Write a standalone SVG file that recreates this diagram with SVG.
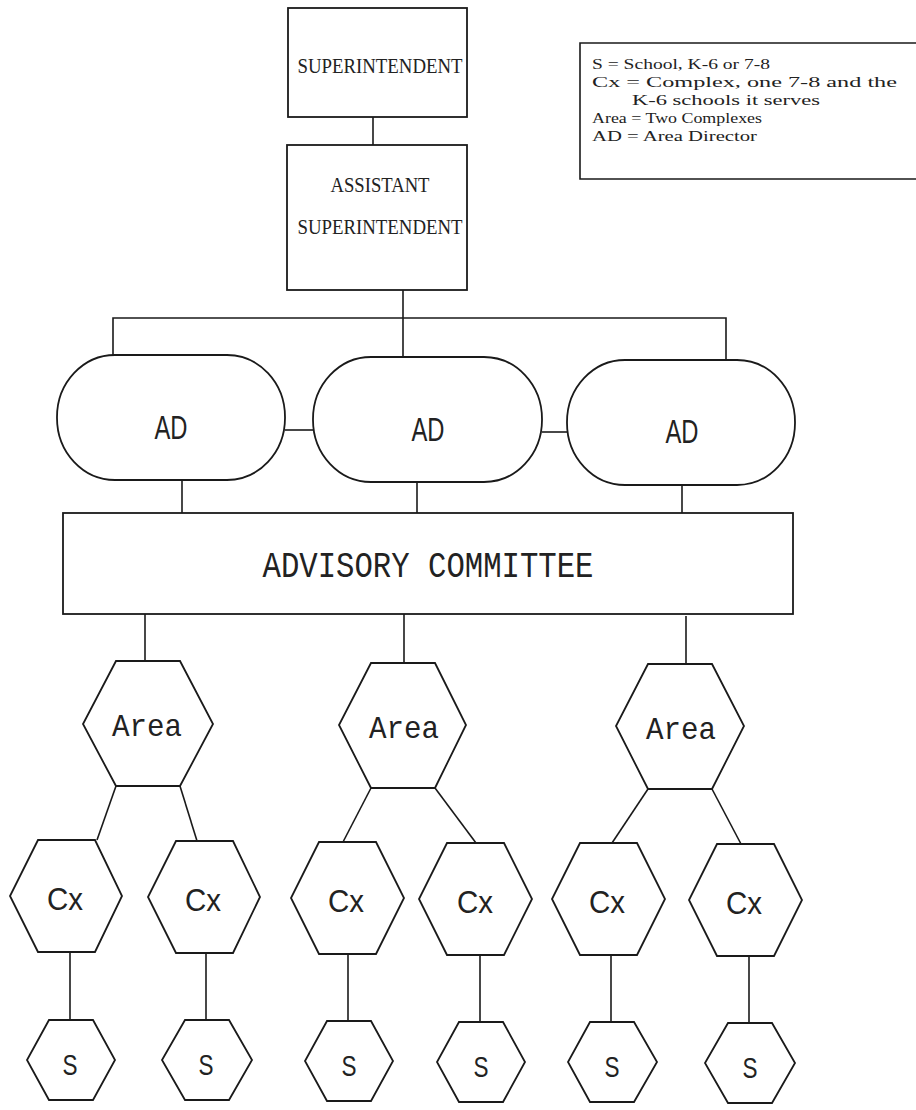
<svg xmlns="http://www.w3.org/2000/svg" width="916" height="1110" viewBox="0 0 916 1110">
<style>
.box{fill:#fff;stroke:#1a1a1a;stroke-width:1.8}
.ln{stroke:#1a1a1a;stroke-width:1.6;fill:none}
.serif{font-family:"Liberation Serif","DejaVu Serif",serif;fill:#222}
.mono{font-family:"Liberation Mono","DejaVu Sans Mono",monospace;fill:#222}
.narrow{font-family:"Liberation Sans Narrow","Liberation Sans",sans-serif;fill:#222}
.ad{font-size:33px}
.cx{font-size:32px}
.s{font-size:30px}
.area{font-size:32px}
.lg{font-size:15px}
.top{font-size:21px}
</style>
<rect width="916" height="1110" fill="#fff"/>
<g id="connectors">
<line class="ln" x1="373" y1="117" x2="373" y2="145"/>
<line class="ln" x1="403" y1="290" x2="403" y2="356"/>
<polyline class="ln" points="113,355 113,318 726,318 726,360"/>
<line class="ln" x1="285" y1="430" x2="313" y2="430"/>
<line class="ln" x1="542" y1="432" x2="567" y2="432"/>
<line class="ln" x1="182" y1="480" x2="182" y2="513"/>
<line class="ln" x1="417" y1="482" x2="417" y2="513"/>
<line class="ln" x1="682" y1="485" x2="682" y2="514"/>
<line class="ln" x1="145" y1="614" x2="145" y2="661"/>
<line class="ln" x1="404" y1="614" x2="404" y2="663"/>
<line class="ln" x1="686" y1="616" x2="686" y2="664"/>
<line class="ln" x1="116" y1="786" x2="97" y2="840"/>
<line class="ln" x1="180" y1="786" x2="197" y2="841"/>
<line class="ln" x1="371" y1="788" x2="343" y2="842"/>
<line class="ln" x1="435" y1="788" x2="476" y2="843"/>
<line class="ln" x1="648" y1="789" x2="612" y2="843"/>
<line class="ln" x1="712" y1="789" x2="741" y2="844"/>
<line class="ln" x1="70" y1="952" x2="70" y2="1020"/>
<line class="ln" x1="206" y1="953" x2="206" y2="1020"/>
<line class="ln" x1="348" y1="954" x2="348" y2="1021"/>
<line class="ln" x1="480" y1="955" x2="480" y2="1022"/>
<line class="ln" x1="611" y1="955" x2="611" y2="1022"/>
<line class="ln" x1="749" y1="956" x2="749" y2="1023"/>
</g>
<g id="superintendent">
<rect class="box" x="288" y="8" width="179" height="109"/>
<text class="serif top" x="380" y="73" text-anchor="middle" textLength="165" lengthAdjust="spacingAndGlyphs">SUPERINTENDENT</text>
</g>
<g id="assistant">
<rect class="box" x="287" y="145" width="180" height="145"/>
<text class="serif top" x="380" y="192" text-anchor="middle" textLength="99" lengthAdjust="spacingAndGlyphs">ASSISTANT</text>
<text class="serif top" x="380" y="234" text-anchor="middle" textLength="165" lengthAdjust="spacingAndGlyphs">SUPERINTENDENT</text>
</g>
<g id="legend">
<polyline class="ln" points="916,43 580,43 580,179 916,179"/>
<text class="serif lg" x="592" y="69" textLength="178" lengthAdjust="spacingAndGlyphs">S = School, K-6 or 7-8</text>
<text class="serif lg" x="592" y="87" textLength="305" lengthAdjust="spacingAndGlyphs">Cx = Complex, one 7-8 and the</text>
<text class="serif lg" x="632" y="105" textLength="188" lengthAdjust="spacingAndGlyphs">K-6 schools it serves</text>
<text class="serif lg" x="592" y="123" textLength="170" lengthAdjust="spacingAndGlyphs">Area = Two Complexes</text>
<text class="serif lg" x="592" y="141" textLength="165" lengthAdjust="spacingAndGlyphs">AD = Area Director</text>
</g>
<g id="ad1">
<rect class="box" x="57" y="355" width="228" height="125" rx="58" ry="62"/>
<text class="narrow ad" x="171" y="439" text-anchor="middle" textLength="33" lengthAdjust="spacingAndGlyphs">AD</text>
</g>
<g id="ad2">
<rect class="box" x="313" y="357" width="229" height="125" rx="58" ry="62"/>
<text class="narrow ad" x="428" y="441" text-anchor="middle" textLength="33" lengthAdjust="spacingAndGlyphs">AD</text>
</g>
<g id="ad3">
<rect class="box" x="567" y="360" width="228" height="125" rx="58" ry="62"/>
<text class="narrow ad" x="682" y="443" text-anchor="middle" textLength="33" lengthAdjust="spacingAndGlyphs">AD</text>
</g>
<g id="advisory">
<rect class="box" x="63" y="513" width="730" height="101"/>
<text class="mono" x="428" y="577" font-size="36" text-anchor="middle" textLength="331" lengthAdjust="spacingAndGlyphs">ADVISORY COMMITTEE</text>
</g>
<g id="area1">
<polygon class="box" points="116,661 180,661 213,724 180,786 116,786 83,724"/>
<text class="mono area" x="147" y="736" text-anchor="middle" textLength="70" lengthAdjust="spacingAndGlyphs">Area</text>
</g>
<g id="area2">
<polygon class="box" points="371,663 435,663 466,725 435,788 371,788 339,725"/>
<text class="mono area" x="404" y="738" text-anchor="middle" textLength="70" lengthAdjust="spacingAndGlyphs">Area</text>
</g>
<g id="area3">
<polygon class="box" points="648,664 712,664 744,726 712,789 648,789 616,726"/>
<text class="mono area" x="681" y="739" text-anchor="middle" textLength="70" lengthAdjust="spacingAndGlyphs">Area</text>
</g>
<g id="cx1">
<polygon class="box" points="38,840 95,840 122,896 95,952 38,952 10,896"/>
<text class="narrow cx" x="65" y="910" text-anchor="middle" textLength="36" lengthAdjust="spacingAndGlyphs">Cx</text>
</g>
<g id="cx2">
<polygon class="box" points="176,841 233,841 260,897 233,953 176,953 148,897"/>
<text class="narrow cx" x="203" y="911" text-anchor="middle" textLength="36" lengthAdjust="spacingAndGlyphs">Cx</text>
</g>
<g id="cx3">
<polygon class="box" points="319,842 376,842 404,898 376,954 319,954 291,898"/>
<text class="narrow cx" x="346" y="912" text-anchor="middle" textLength="36" lengthAdjust="spacingAndGlyphs">Cx</text>
</g>
<g id="cx4">
<polygon class="box" points="447,843 504,843 532,899 504,955 447,955 419,899"/>
<text class="narrow cx" x="475" y="913" text-anchor="middle" textLength="36" lengthAdjust="spacingAndGlyphs">Cx</text>
</g>
<g id="cx5">
<polygon class="box" points="580,843 637,843 665,899 637,955 580,955 552,899"/>
<text class="narrow cx" x="607" y="913" text-anchor="middle" textLength="36" lengthAdjust="spacingAndGlyphs">Cx</text>
</g>
<g id="cx6">
<polygon class="box" points="717,844 774,844 802,900 774,956 717,956 689,900"/>
<text class="narrow cx" x="744" y="914" text-anchor="middle" textLength="36" lengthAdjust="spacingAndGlyphs">Cx</text>
</g>
<g id="s1">
<polygon class="box" points="49,1020 93,1020 115,1060 93,1100 49,1100 27,1060"/>
<text class="narrow s" x="70" y="1075" text-anchor="middle" textLength="15" lengthAdjust="spacingAndGlyphs">S</text>
</g>
<g id="s2">
<polygon class="box" points="185,1020 229,1020 252,1060 229,1100 185,1100 162,1060"/>
<text class="narrow s" x="206" y="1075" text-anchor="middle" textLength="15" lengthAdjust="spacingAndGlyphs">S</text>
</g>
<g id="s3">
<polygon class="box" points="327,1021 371,1021 393,1061 371,1101 327,1101 305,1061"/>
<text class="narrow s" x="349" y="1076" text-anchor="middle" textLength="15" lengthAdjust="spacingAndGlyphs">S</text>
</g>
<g id="s4">
<polygon class="box" points="459,1022 503,1022 525,1062 503,1102 459,1102 437,1062"/>
<text class="narrow s" x="481" y="1077" text-anchor="middle" textLength="15" lengthAdjust="spacingAndGlyphs">S</text>
</g>
<g id="s5">
<polygon class="box" points="590,1022 634,1022 657,1062 634,1102 590,1102 568,1062"/>
<text class="narrow s" x="612" y="1077" text-anchor="middle" textLength="15" lengthAdjust="spacingAndGlyphs">S</text>
</g>
<g id="s6">
<polygon class="box" points="728,1023 772,1023 795,1063 772,1103 728,1103 705,1063"/>
<text class="narrow s" x="750" y="1078" text-anchor="middle" textLength="15" lengthAdjust="spacingAndGlyphs">S</text>
</g>
</svg>
